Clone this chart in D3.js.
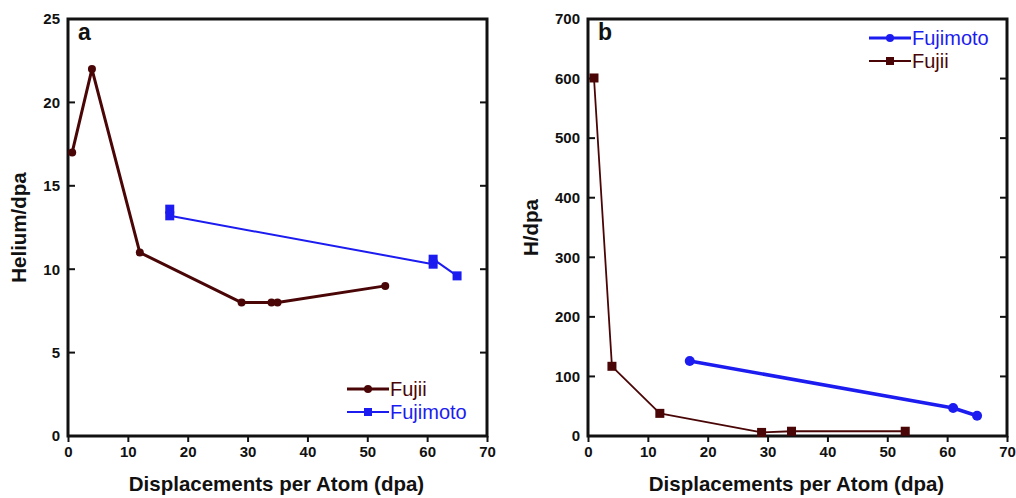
<!DOCTYPE html>
<meta charset="utf-8">
<style>
  body { margin: 0; background: #fff; }
  text { font-family: "Liberation Sans", Arial, sans-serif; }
  .axisTitle { font-weight: bold; font-size: 20.5px; fill: #111; }
  .panelLabel { font-weight: bold; font-size: 23px; fill: #111; }
  .legText { font-size: 20px; }
</style>
<body>
<script src="https://cdnjs.cloudflare.com/ajax/libs/d3/7.8.5/d3.min.js"></script>
<script>
  // panel a: helium per dpa
  var heFujiiX = [0.7, 4, 12, 29, 34, 35, 53];
  var heFujiiY = [17, 22, 11, 8, 8, 8, 9];
  var heFujimotoX = [17, 17, 61, 61, 65];
  var heFujimotoY = [13.6, 13.2, 10.3, 10.6, 9.6];
  var heTicks = [0, 5, 10, 15, 20, 25];

  // panel b: hydrogen per dpa
  var hFujiiX = [1, 4, 12, 29, 34, 53];
  var hFujiiY = [601, 117, 38, 6, 8, 8];
  var hFujimotoX = [17, 61, 65];
  var hFujimotoY = [126, 47, 34];
  var hTicks = [0, 100, 200, 300, 400, 500, 600, 700];

  var xTicks = [0, 10, 20, 30, 40, 50, 60, 70];

  var brown = "#4a0606", blue = "#1c1cf0";

  var svg = d3.select("body").append("svg")
    .attr("width", 1016)
    .attr("height", 498);

  function zip(xs, ys) {
    return xs.map(function (x, i) { return [x, ys[i]]; });
  }

  function styleTicks(s) {
    s.attr("font-size", null).attr("font-family", null);
    s.selectAll("text")
      .style("font-family", "'Liberation Sans', Arial, sans-serif")
      .style("font-size", "15px")
      .style("font-weight", "bold")
      .style("fill", "#111");
  }

  function panel(opt) {
    var x = d3.scaleLinear().domain([0, 70]).range([opt.left, opt.right]);
    var y = d3.scaleLinear().domain([0, opt.ymax]).range([436, 19]);
    var g = svg.append("g");

    // x axis, ticks outward
    g.append("g")
      .attr("transform", "translate(0,436)")
      .call(d3.axisBottom(x).tickValues(xTicks).tickSize(6).tickPadding(4))
      .call(styleTicks)
      .call(function (s) { s.select(".domain").remove(); s.selectAll("line").attr("stroke", "#111").attr("stroke-width", 2); });

    // y axis, ticks inward
    g.append("g")
      .attr("transform", "translate(" + opt.left + ",0)")
      .call(d3.axisLeft(y).tickValues(opt.yTicks).tickSize(0).tickPadding(8))
      .call(styleTicks)
      .call(function (s) { s.select(".domain").remove(); });
    opt.yTicks.forEach(function (t) {
      g.append("line").attr("x1", opt.left).attr("x2", opt.left + 7)
        .attr("y1", y(t)).attr("y2", y(t)).attr("stroke", "#111").attr("stroke-width", 2);
      g.append("line").attr("x1", opt.right).attr("x2", opt.right - 7)
        .attr("y1", y(t)).attr("y2", y(t)).attr("stroke", "#111").attr("stroke-width", 2);
    });

    // frame
    g.append("rect")
      .attr("x", opt.left).attr("y", 19)
      .attr("width", opt.right - opt.left).attr("height", 417)
      .attr("fill", "none").attr("stroke", "#111").attr("stroke-width", 3);

    // axis titles
    g.append("text").attr("class", "axisTitle")
      .attr("x", (opt.left + opt.right) / 2 - 1).attr("y", 491)
      .attr("text-anchor", "middle")
      .text("Displacements per Atom (dpa)");
    g.append("text").attr("class", "axisTitle")
      .attr("transform", "translate(" + opt.ytX + "," + y(opt.ymax / 2) + ") rotate(-90)")
      .attr("text-anchor", "middle")
      .text(opt.ytitle);

    g.append("text").attr("class", "panelLabel")
      .attr("x", opt.left + 10).attr("y", 40)
      .text(opt.label);

    var line = d3.line().x(function (d) { return x(d[0]); }).y(function (d) { return y(d[1]); });

    opt.series.forEach(function (s) {
      g.append("path").datum(s.data)
        .attr("d", line).attr("fill", "none")
        .attr("stroke", s.color).attr("stroke-width", s.lw)
        .attr("stroke-linejoin", "round");
      drawMarkers(g, s, s.data.map(function (d) { return [x(d[0]), y(d[1])]; }));
    });

    // legend
    opt.series.forEach(function (s, i) {
      var ly = opt.legY + i * 23;
      g.append("line").attr("x1", opt.legX).attr("x2", opt.legX + 42)
        .attr("y1", ly).attr("y2", ly)
        .attr("stroke", s.color).attr("stroke-width", s.legLw);
      drawMarkers(g, { color: s.color, shape: s.shape, size: s.legSize }, [[opt.legX + 21, ly]]);
      g.append("text").attr("class", "legText")
        .attr("x", opt.legX + 43).attr("y", ly + 7)
        .attr("fill", s.color)
        .text(s.name);
    });
  }

  function drawMarkers(g, s, pts) {
    pts.forEach(function (p) {
      if (s.shape === "circle") {
        g.append("circle").attr("cx", p[0]).attr("cy", p[1]).attr("r", s.size)
          .attr("fill", s.color);
      } else {
        g.append("rect").attr("x", p[0] - s.size).attr("y", p[1] - s.size)
          .attr("width", s.size * 2).attr("height", s.size * 2)
          .attr("fill", s.color);
      }
    });
  }

  panel({
    left: 68, right: 487, ymax: 25, yTicks: heTicks, ytitle: "Helium/dpa", ytX: 26,
    label: "a", legX: 347, legY: 389,
    series: [
      { name: "Fujii", data: zip(heFujiiX, heFujiiY), color: brown, lw: 3, shape: "circle", size: 4, legLw: 3, legSize: 4 },
      { name: "Fujimoto", data: zip(heFujimotoX, heFujimotoY), color: blue, lw: 2, shape: "square", size: 4.5, legLw: 2, legSize: 4 }
    ]
  });

  panel({
    left: 588, right: 1007, ymax: 700, yTicks: hTicks, ytitle: "H/dpa", ytX: 538,
    label: "b", legX: 869, legY: 38,
    series: [
      { name: "Fujimoto", data: zip(hFujimotoX, hFujimotoY), color: blue, lw: 3.5, shape: "circle", size: 5, legLw: 3, legSize: 4 },
      { name: "Fujii", data: zip(hFujiiX, hFujiiY), color: brown, lw: 1.8, shape: "square", size: 4.5, legLw: 2, legSize: 4 }
    ]
  });
</script>
</body>
